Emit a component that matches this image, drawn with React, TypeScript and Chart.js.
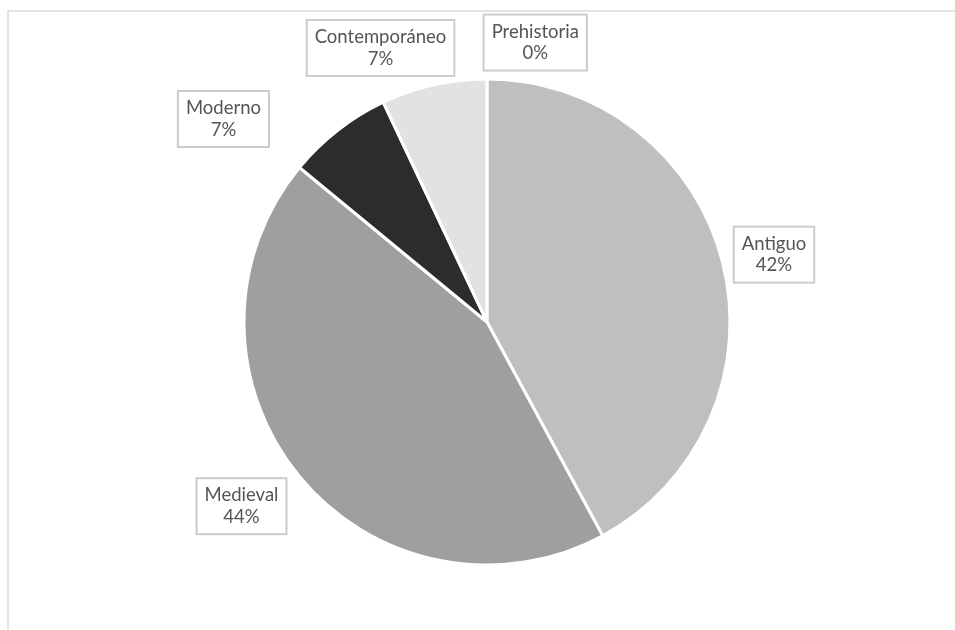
import React, { useEffect, useRef } from "react";
import { Chart, registerables } from "chart.js";

Chart.register(...registerables);

const categories = ["Prehistoria", "Antiguo", "Medieval", "Moderno", "Contemporáneo"];
const counts = [0, 24, 25, 4, 4];
const sliceColors = ["#f2f2f2", "#bfbfbf", "#9f9f9f", "#2b2d2c", "#e1e2e1"];

// label layout (angle shift in degrees from slice middle, distance as multiple of radius)
const labelLayout = [
  { shift: 9.8, factor: 1.167 },
  { shift: 1.0, factor: 1.213 },
  { shift: 2.6, factor: 1.263 },
  { shift: -14.5, factor: 1.369 },
  { shift: -8.6, factor: 1.21 },
];

const FONT = "18.5px Lato, 'Open Sans', sans-serif";

const framePlugin = {
  id: "frame",
  beforeDraw(chart: any) {
    const ctx = chart.ctx;
    ctx.save();
    ctx.fillStyle = "#e2e2e2";
    ctx.fillRect(7, 10, chart.width, 2);
    ctx.fillRect(7, 10, 2, chart.height);
    ctx.restore();
  },
};

const labelPlugin = {
  id: "boxLabels",
  afterDatasetsDraw(chart: any) {
    const ctx = chart.ctx;
    const meta = chart.getDatasetMeta(0);
    const data = chart.data.datasets[0].data as number[];
    const total = data.reduce((a, b) => a + b, 0);
    ctx.save();
    ctx.font = FONT;
    ctx.textAlign = "center";
    ctx.textBaseline = "middle";
    const lineH = 21.5;
    const padX = 8;
    const padY = 6.5;
    meta.data.forEach((arc: any, i: number) => {
      const p = arc.getProps(["x", "y", "startAngle", "endAngle", "outerRadius"], true);
      const lay = labelLayout[i];
      const mid = (p.startAngle + p.endAngle) / 2 + (lay.shift * Math.PI) / 180;
      const cx = p.x + Math.cos(mid) * p.outerRadius * lay.factor;
      const cy = p.y + Math.sin(mid) * p.outerRadius * lay.factor;
      const l1 = String(chart.data.labels[i]);
      const l2 = Math.round((data[i] / total) * 100) + "%";
      const w = Math.max(ctx.measureText(l1).width, ctx.measureText(l2).width) + padX * 2;
      const h = lineH * 2 + padY * 2;
      ctx.fillStyle = "#ffffff";
      ctx.fillRect(cx - w / 2, cy - h / 2, w, h);
      ctx.strokeStyle = "#cccccc";
      ctx.lineWidth = 2;
      ctx.strokeRect(cx - w / 2, cy - h / 2, w, h);
      ctx.fillStyle = "#555555";
      ctx.fillText(l1, cx, cy - lineH / 2);
      ctx.fillText(l2, cx, cy + lineH / 2);
    });
    ctx.restore();
  },
};

export default function App() {
  const ref = useRef<HTMLCanvasElement | null>(null);
  useEffect(() => {
    if (!ref.current) return;
    const chart = new Chart(ref.current, {
      type: "pie",
      data: {
        labels: categories,
        datasets: [
          {
            data: counts,
            backgroundColor: sliceColors,
            borderColor: "#ffffff",
            borderWidth: 3,
            hoverOffset: 0,
          },
        ],
      },
      options: {
        animation: false,
        responsive: true,
        maintainAspectRatio: false,
        radius: 243,
        layout: { padding: { left: 69, right: 50, top: 64, bottom: 50 } },
        plugins: {
          legend: { display: false },
          tooltip: { enabled: false },
          title: { display: false },
        },
      },
      plugins: [framePlugin, labelPlugin],
    });
    return () => chart.destroy();
  }, []);
  return (
    <div style={{ position: "fixed", left: 0, top: 0, width: 955, height: 630, background: "#ffffff" }}>
      <canvas ref={ref} />
    </div>
  );
}
